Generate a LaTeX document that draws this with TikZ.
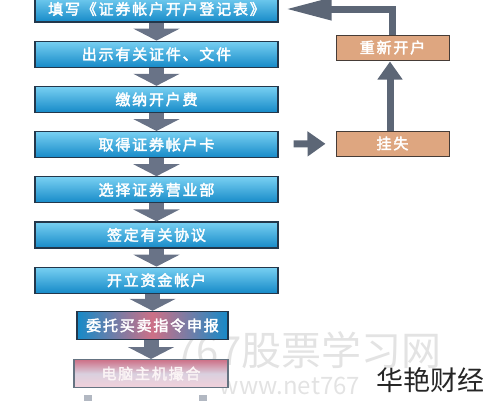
\documentclass[tikz,border=0pt]{standalone}
\usepackage{fontspec}
\newfontfamily\cjk[AutoFakeBold=2.5,LetterSpace=12]{Noto Sans CJK SC}
\newfontfamily\cjkthin{Noto Sans CJK SC}
\usetikzlibrary{positioning}
\usetikzlibrary{arrows.meta}
\definecolor{boxtop}{RGB}{120,208,242}
\definecolor{boxbot}{RGB}{22,138,200}
\definecolor{boxline}{RGB}{35,55,75}
\definecolor{rosy}{RGB}{205,112,135}
\definecolor{pale}{RGB}{242,208,218}
\definecolor{tan}{RGB}{222,166,128}
\definecolor{tanline}{RGB}{70,60,55}
\definecolor{arrowgray}{RGB}{105,115,135}
\definecolor{sidegray}{RGB}{92,102,118}
\definecolor{bargray}{RGB}{178,184,194}

\begin{document}
\begin{tikzpicture}[x=1pt,y=-1pt,node distance=18pt,
  stepbox/.style={draw=boxline,line width=1.2pt,top color=boxtop,bottom color=boxbot,
    minimum width=243pt,minimum height=26pt,inner sep=0pt,text=white,
    font=\cjk\bfseries\fontsize{15}{18}\selectfont},
  sidebox/.style={draw=tanline,line width=1pt,fill=tan,minimum width=113pt,
    minimum height=25pt,inner sep=0pt,text=white,
    font=\cjk\bfseries\fontsize{15}{18}\selectfont},
  down/.style={draw=arrowgray,line width=15pt,-{Triangle[width=46pt,length=12pt]}},
  side/.style={draw=sidegray,line width=7pt,-{Triangle[width=24pt,length=18pt]}},
  bar/.style={draw=bargray,line width=8pt}]
\useasboundingbox (0,0) rectangle (483,400);

% watermark
\node[font=\cjkthin\fontsize{40}{44}\selectfont,text=gray!22] (mark) at (308,350) {767股票学习网};
\node[font=\cjkthin\fontsize{24}{28}\selectfont,text=gray!22] (site) at (290,386) {www.net767};

% main column
\node[stepbox] (form) at (156.5,9) {填写《证券帐户开户登记表》};
\node[stepbox,below=of form] (papers) {出示有关证件、文件};
\node[stepbox,below=of papers] (fee) {缴纳开户费};
\node[stepbox,below=of fee] (card) {取得证券帐户卡};
\node[stepbox,below=of card] (branch) {选择证券营业部};
\node[stepbox,below=of branch] (deal) {签定有关协议};
\node[stepbox,below=of deal] (fund) {开立资金帐户};
\node[stepbox,minimum width=151pt,minimum height=28pt,left color=boxbot,right color=boxbot,
  middle color=rosy,below=17pt of fund,xshift=-4pt] (order) {委托买卖指令申报};
\node[stepbox,minimum width=154pt,minimum height=28pt,top color=rosy,bottom color=pale,
  middle color=pale!80!boxtop,draw=boxline!70,text=white!92!rosy,below=19pt of order,xshift=-1.5pt] (match) {电脑主机撮合};

\foreach \a/\b in {form/papers,papers/fee,fee/card,card/branch,branch/deal,deal/fund}
  \draw[down] (\a) -- (\b);
\draw[down] (fund.south -| order.north) -- (order.north);
\draw[down] (order.south -| match.north) -- (match.north);

\draw[bar] ([xshift=-63pt,yshift=-7pt]match.south) -- ++(0,20);
\draw[bar] ([xshift=52pt,yshift=-7pt]match.south) -- ++(0,20);

% side branch
\node[sidebox] (renew) at (392.5,47.5) {重新开户};
\node[sidebox] (lost) at (392.5,143.5) {挂失};
\draw[side,shorten <=15pt,shorten >=10pt] (card) -- (lost);
\draw[side,shorten >=1pt] ([xshift=-2.5pt]lost.north) -- ([xshift=-2.5pt]renew.south);
\draw[side,-{Triangle[width=21pt,length=46pt]},shorten >=7pt] (renew.north) |- (form.east);

\node[font=\cjkthin\fontsize{27}{30}\selectfont,text=black!85] (brand) at (430,380) {华艳财经};
\end{tikzpicture}
\end{document}
